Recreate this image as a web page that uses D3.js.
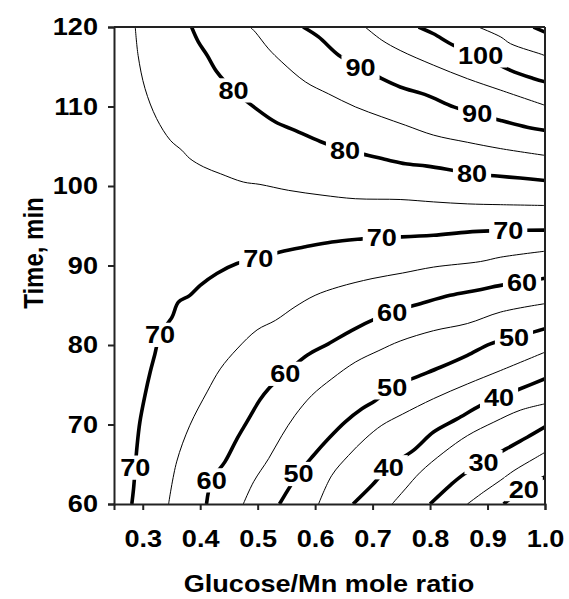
<!DOCTYPE html>
<html><head><meta charset="utf-8">
<script src="https://cdn.jsdelivr.net/npm/d3@7"></script>
<style>
body{margin:0;background:#fff;}
text{font-family:"Liberation Sans",Arial,Helvetica,sans-serif;font-weight:bold;fill:#000;}
.wide{transform-box:fill-box;transform-origin:center;transform:scaleX(1.13);}
</style>
</head><body>
<svg id="chart" width="569" height="599"></svg>
<script>
// ---- Axis ticks ----
const xTicks = [0.3, 0.4, 0.5, 0.6, 0.7, 0.8, 0.9, 1.0];
const yTicks = [60, 70, 80, 90, 100, 110, 120];
const xTitle = "Glucose/Mn mole ratio";
const yTitle = "Time, min";

// ---- Contour lines: [Glucose/Mn ratio, Time] points ----
const c20 = [[0.928,60],[0.963,61.9],[1.0,63.4]];
const c25 = [[0.865,60],[0.893,61.5],[0.923,63.0],[0.946,64.2],[0.981,65.7],[1.0,66.5]];
const c30 = [[0.800,60],[0.835,62.35],[0.856,63.6],[0.893,65.3],[0.934,67.0],[0.969,68.4],[1.0,69.7]];
const c35 = [[0.734,60],[0.757,61.9],[0.783,64.0],[0.824,66.5],[0.865,68.6],[0.911,70.3],[0.957,71.8],[1.0,72.6]];
const c40 = [[0.666,60],[0.699,62.35],[0.728,64.65],[0.771,66.75],[0.806,69.05],[0.847,70.7],[0.888,72.4],[0.920,73.45],[0.957,74.5],[1.0,75.75]];
const c45 = [[0.606,60],[0.629,63.6],[0.658,66.1],[0.687,68.2],[0.716,69.9],[0.752,71.3],[0.806,73.25],[0.865,75.1],[0.923,76.8],[1.0,79.1]];
const c50 = [[0.538,60],[0.571,63.8],[0.597,66.1],[0.623,68.2],[0.652,70.3],[0.682,72.0],[0.705,73.0],[0.734,74.7],[0.777,76.0],[0.818,77.2],[0.865,78.7],[0.905,80.15],[0.946,81.0],[0.981,81.65],[1.0,82.05]];
const c55 = [[0.475,60],[0.493,62.8],[0.519,65.7],[0.542,68.6],[0.565,71.15],[0.594,73.65],[0.629,75.75],[0.670,77.85],[0.711,79.3],[0.748,80.5],[0.806,81.8],[0.865,82.7],[0.923,84.15],[1.0,85.2]];
const c60 = [[0.411,60],[0.420,63.0],[0.443,65.3],[0.464,68.2],[0.481,70.3],[0.504,73.1],[0.519,74.5],[0.548,76.4],[0.586,78.7],[0.623,80.15],[0.664,81.85],[0.711,83.5],[0.734,84.15],[0.783,85.2],[0.835,86.25],[0.882,86.9],[0.923,87.5],[0.960,87.9],[1.0,88.4]];
const c65 = [[0.345,60],[0.359,65.3],[0.382,69.9],[0.412,74.1],[0.435,77.0],[0.464,79.5],[0.499,81.9],[0.531,83.1],[0.565,84.8],[0.600,86.25],[0.641,87.3],[0.699,88.35],[0.752,89.05],[0.806,89.8],[0.888,90.5],[0.923,91.05],[1.0,91.8]];
const c70 = [[0.281,60],[0.284,61.9],[0.290,67.2],[0.295,70.3],[0.304,73.7],[0.313,76.6],[0.321,78.8],[0.330,81.3],[0.351,83.5],[0.362,85.4],[0.382,86.25],[0.400,87.5],[0.429,89.0],[0.464,90.25],[0.501,90.95],[0.539,91.7],[0.583,92.35],[0.629,92.95],[0.682,93.35],[0.716,93.55],[0.751,93.6],[0.806,93.8],[0.865,94.2],[0.905,94.35],[0.936,94.4],[1.0,94.45]];
const c75 = [[0.287,120],[0.292,116.4],[0.304,112.25],[0.324,108.5],[0.348,105.75],[0.368,104.5],[0.382,103.45],[0.406,102.4],[0.435,101.55],[0.475,100.5],[0.504,100.2],[0.554,99.45],[0.612,98.85],[0.670,98.4],[0.748,98.3],[0.806,98.0],[0.865,97.75],[0.923,97.65],[1.0,97.55]];
const c80 = [[0.385,120],[0.397,118.1],[0.412,116.45],[0.429,114.35],[0.458,112.05],[0.496,109.8],[0.531,108.05],[0.565,107.0],[0.609,105.6],[0.652,104.5],[0.693,103.85],[0.728,103.25],[0.757,102.8],[0.795,102.5],[0.841,101.95],[0.873,101.55],[0.917,101.25],[0.957,101.0],[1.0,100.7]];
const c85 = [[0.487,120],[0.496,119.35],[0.519,117.25],[0.542,115.6],[0.583,113.1],[0.623,111.6],[0.670,109.95],[0.716,108.7],[0.757,107.65],[0.806,106.4],[0.865,105.5],[0.923,104.7],[1.0,103.85]];
const c90 = [[0.579,120],[0.606,118.75],[0.641,116.45],[0.679,114.95],[0.716,113.5],[0.748,112.45],[0.795,111.4],[0.841,109.95],[0.882,109.1],[0.923,108.25],[0.969,107.4],[1.0,107.0]];
const c95 = [[0.687,120],[0.716,118.35],[0.748,117.05],[0.806,115.2],[0.865,113.5],[0.923,112.05],[1.0,110.15]];
const c100 = [[0.780,120],[0.806,119.15],[0.841,117.7],[0.888,116.45],[0.940,114.55],[0.981,113.5],[1.0,113.1]];
const c105 = [[0.884,120],[0.923,118.75],[0.940,117.9],[0.998,116.45],[1.0,116.35]];
const c110 = [[0.980,120],[1.0,119.35]];

// ---- Contour labels: [ratio, time, text] ----
const contourLabels = [
  [0.458,112.05,"80"],[0.679,114.95,"90"],[0.888,116.45,"100"],
  [0.882,109.1,"90"],[0.652,104.5,"80"],[0.873,101.55,"80"],
  [0.501,90.95,"70"],[0.716,93.55,"70"],[0.936,94.4,"70"],
  [0.330,81.3,"70"],[0.287,64.6,"70"],
  [0.420,63.0,"60"],[0.548,76.4,"60"],[0.734,84.15,"60"],[0.960,87.9,"60"],
  [0.571,63.8,"50"],[0.734,74.7,"50"],[0.946,81.0,"50"],
  [0.728,64.65,"40"],[0.920,73.45,"40"],
  [0.893,65.3,"30"],
  [0.963,61.9,"20"]
];

const contours = [
  {level:20,pts:c20},{level:25,pts:c25},{level:30,pts:c30},{level:35,pts:c35},
  {level:40,pts:c40},{level:45,pts:c45},{level:50,pts:c50},{level:55,pts:c55},
  {level:60,pts:c60},{level:65,pts:c65},{level:70,pts:c70},{level:75,pts:c75},
  {level:80,pts:c80},{level:85,pts:c85},{level:90,pts:c90},{level:95,pts:c95},
  {level:100,pts:c100},{level:105,pts:c105},{level:110,pts:c110}
];

const STRETCH = 1.13;
const svg = d3.select("#chart");
svg.append("rect").attr("width",569).attr("height",599).attr("fill","#fff");

const x = d3.scaleLinear().domain([0.25,1.0]).range([114,545]);
const y = d3.scaleLinear().domain([60,120]).range([504,27]);

svg.append("clipPath").attr("id","plotclip").append("rect")
  .attr("x",114).attr("y",27).attr("width",431).attr("height",477);

const line = d3.line().x(d=>x(d[0])).y(d=>y(d[1])).curve(d3.curveCatmullRom.alpha(0.5));

const g = svg.append("g").attr("clip-path","url(#plotclip)");
g.selectAll("path.contour").data(contours).join("path")
  .attr("class","contour")
  .attr("d",d=>line(d.pts))
  .attr("fill","none")
  .attr("stroke","#000")
  .attr("stroke-width",d=>d.level%10===0?3.6:1)
  .attr("stroke-linejoin","round")
  .attr("stroke-linecap","butt");

// labels with white knock-out boxes
const lg = svg.append("g");
const lab = lg.selectAll("g.lab").data(contourLabels).join("g").attr("class","lab")
  .attr("transform",d=>`translate(${x(d[0])},${y(d[1])})`);
lab.append("text")
  .attr("class","wide")
  .attr("text-anchor","middle").attr("dy","0.36em")
  .style("font-size","24px")
  .text(d=>d[2]);
lab.each(function(){
  const t = d3.select(this).select("text");
  const b = t.node().getBBox();
  const w = b.width*STRETCH;
  d3.select(this).insert("rect","text")
    .attr("x",-w/2-4).attr("y",b.y+1).attr("width",w+8).attr("height",b.height-2)
    .attr("fill","#fff");
});

// axes
const xAxis = svg.append("g").attr("transform","translate(0,504)")
  .call(d3.axisBottom(x).tickValues(xTicks).tickFormat(d3.format(".1f")).tickSize(6).tickPadding(20));
const yAxis = svg.append("g").attr("transform","translate(114,0)")
  .call(d3.axisLeft(y).tickValues(yTicks).tickSize(6).tickPadding(10));
[xAxis,yAxis].forEach(a=>{
  a.select(".domain").attr("stroke","#222").attr("stroke-width",2);
  a.selectAll(".tick line").attr("stroke","#222").attr("stroke-width",2);
  a.selectAll(".tick text").style("font-size","24px").style("font-family","'Liberation Sans',Arial,sans-serif").style("font-weight","bold").attr("fill","#000");
});
xAxis.selectAll(".tick text").attr("class","wide");
// y tick labels: keep right edge fixed while stretching
yAxis.selectAll(".tick text").each(function(){
  const t = d3.select(this);
  const b = this.getBBox();
  const right = b.x + b.width;
  t.attr("transform",`translate(${right},0) scale(${STRETCH},1) translate(${-right},0)`);
});
// frame top and right
svg.append("line").attr("x1",114).attr("x2",545).attr("y1",27).attr("y2",27).attr("stroke","#222").attr("stroke-width",2);
svg.append("line").attr("x1",545).attr("x2",545).attr("y1",27).attr("y2",504).attr("stroke","#222").attr("stroke-width",2);

svg.append("text").attr("class","wide").attr("x",329).attr("y",592).attr("text-anchor","middle")
  .style("font-size","24px").text(xTitle);
svg.append("text").attr("transform",`translate(43,253) rotate(-90) scale(1,${STRETCH})`).attr("text-anchor","middle")
  .style("font-size","24px").text(yTitle);
</script>
</body></html>
